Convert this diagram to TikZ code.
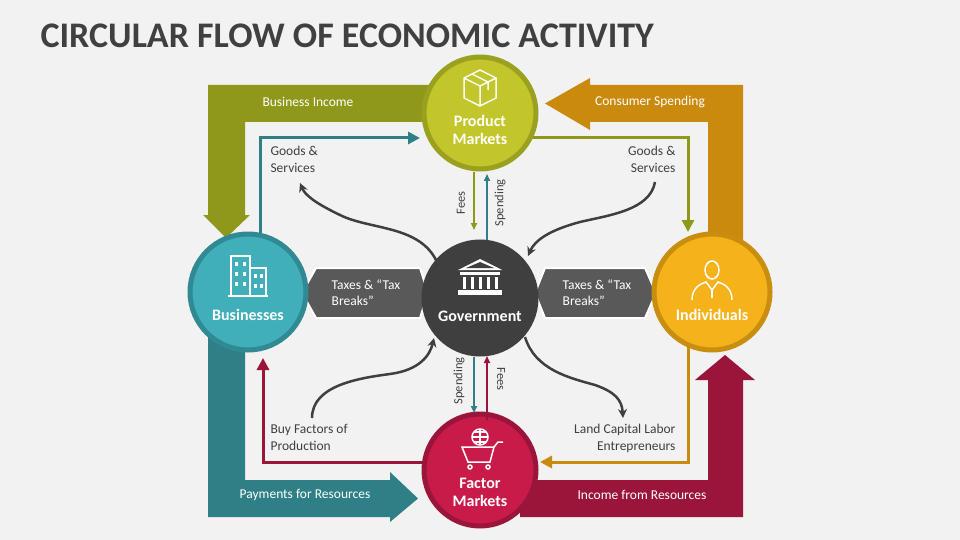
\documentclass[tikz,border=0pt]{standalone}
\usepackage{fontspec}
\setmainfont{Carlito}
\usetikzlibrary{arrows.meta}
\definecolor{bg}{HTML}{F2F2F2}
\definecolor{olive}{HTML}{8F981A}
\definecolor{lime}{HTML}{C2C62A}
\definecolor{limering}{HTML}{9AA11E}
\definecolor{gold}{HTML}{C98A0D}
\definecolor{amber}{HTML}{F6B21B}
\definecolor{amberring}{HTML}{C98E10}
\definecolor{teal}{HTML}{2F7F86}
\definecolor{cyan2}{HTML}{40AFB9}
\definecolor{cyanring}{HTML}{2F8A93}
\definecolor{crim}{HTML}{9A1539}
\definecolor{rose}{HTML}{C81B4A}
\definecolor{dgray}{HTML}{3F3F3F}
\definecolor{mgray}{HTML}{595959}
\definecolor{txt}{HTML}{404040}
\tikzset{
 hub/.style={circle,minimum size=112pt,line width=5pt,text=white,font=\bfseries\fontsize{16}{18}\selectfont,align=center,inner sep=0pt},
 wlab/.style={text=white,font=\fontsize{13.5}{15}\selectfont},
 dlab/.style={text=txt,font=\fontsize{13.5}{17}\selectfont,align=left},
 thin/.style={line width=3pt,-{Triangle[width=12pt,length=12pt]}},
 curv/.style={line width=2.5pt,dgray,-{Stealth[width=9pt,length=9pt]}},
 vl/.style={line width=1.6pt,-{Triangle[width=6pt,length=7pt]}},
 icon/.style={white,line width=1.5pt},
 hex/.style={fill=mgray,draw=white,line width=2pt}
}
\begin{document}
\begin{tikzpicture}[x=1pt,y=-1pt]
\fill[bg] (0,0) rectangle (960,540);
\useasboundingbox (0,0) rectangle (960,540);
\node[anchor=west,text=txt,font=\bfseries\fontsize{36}{38}\selectfont] (title) at (37,36) {CIRCULAR FLOW OF ECONOMIC ACTIVITY};
% thick arrows
\fill[olive] (440,85) -- (208,85) -- (208,215) -- (203,215) -- (226,238) -- (250,215) -- (245,215) -- (245,122) -- (440,122) -- cycle;
\fill[gold] (708,250) -- (708,122) -- (590,122) -- (590,130) -- (545,103.5) -- (590,78) -- (590,85) -- (743,85) -- (743,250) -- cycle;
\fill[teal] (208,320) -- (208,517) -- (390,517) -- (390,522) -- (418,498.5) -- (390,472) -- (390,480) -- (245,480) -- (245,320) -- cycle;
\fill[crim] (520,480) -- (708,480) -- (708,380) -- (695,380) -- (725,355) -- (755,380) -- (743,380) -- (743,517) -- (520,517) -- cycle;
% thin arrows
\coordinate (t1) at (260,240); \coordinate (t2) at (260,138); \coordinate (t3) at (420,138);
\draw[thin,teal] (t1) -- (t2) -- (t3);
\coordinate (o1) at (530,138); \coordinate (o2) at (688,138); \coordinate (o3) at (688,232);
\draw[thin,olive] (o1) -- (o2) -- (o3);
\coordinate (g1) at (688,340); \coordinate (g2) at (688,462); \coordinate (g3) at (540,462);
\draw[thin,gold] (g1) -- (g2) -- (g3);
\coordinate (c1) at (430,462); \coordinate (c2) at (263,462); \coordinate (c3) at (263,358);
\draw[thin,crim] (c1) -- (c2) -- (c3);
% hexagons
\draw[hex] (302,293) -- (316,268) -- (420,268) -- (428,293) -- (420,318) -- (316,318) -- cycle;
\draw[hex] (535,293) -- (545,268) -- (645,268) -- (656,293) -- (645,318) -- (545,318) -- cycle;
\node[text=white,font=\fontsize{13.5}{16}\selectfont,align=left] (tx1) at (366,293) {Taxes \& “Tax\\Breaks”};
\node[text=white,font=\fontsize{13.5}{16}\selectfont,align=left] (tx2) at (597,293) {Taxes \& “Tax\\Breaks”};
% hubs
\node[hub,fill=lime,draw=limering] (pm) at (480,113) {\\[28pt]Product\\Markets};
\node[hub,fill=dgray,draw=dgray] (gov) at (480,298) {\\[30pt]Government};
\node[hub,fill=cyan2,draw=cyanring,minimum size=116pt] (bus) at (248,292) {\\[40pt]Businesses};
\node[hub,fill=amber,draw=amberring,minimum size=116pt] (ind) at (712,292) {\\[40pt]Individuals};
\node[hub,fill=rose,draw=crim] (fm) at (480,470) {\\[38pt]Factor\\Markets};
% vertical small arrows
\draw[vl,olive] (474,172) -- (474,230);
\draw[vl,teal] (487,240) -- (487,174);
\draw[vl,teal] (474,357) -- (474,413);
\draw[vl,crim] (487,420) -- (487,356);
\node[rotate=90,text=txt,font=\fontsize{12.5}{14}\selectfont] (f1) at (461,203) {Fees};
\node[rotate=90,text=txt,font=\fontsize{12.5}{14}\selectfont] (s1) at (500,203) {Spending};
\node[rotate=90,text=txt,font=\fontsize{12.5}{14}\selectfont] (s2) at (459,381) {Spending};
\node[rotate=-90,text=txt,font=\fontsize{12.5}{14}\selectfont] (f2) at (501,379) {Fees};
% curves
\draw[curv] (437,262) .. controls (420,225) and (370,230) .. (340,215) .. controls (315,203) and (305,195) .. (300,183);
\draw[curv] (655,182) .. controls (650,210) and (610,215) .. (580,222) .. controls (550,230) and (535,240) .. (528,256);
\draw[curv] (312,418) .. controls (312,385) and (360,378) .. (390,374) .. controls (420,370) and (430,355) .. (434,338);
\draw[curv] (525,337) .. controls (535,370) and (570,378) .. (595,385) .. controls (615,392) and (622,400) .. (623,418);
% labels
\node[wlab] (l1) at (308,102) {Business Income};
\node[wlab] (l2) at (650,102) {Consumer Spending};
\node[wlab] (l3) at (305,495) {Payments for Resources};
\node[wlab] (l4) at (642,495) {Income from Resources};
\node[dlab,anchor=north west] (d1) at (267,143) {Goods \&\\Services};
\node[dlab,anchor=north east,align=right] (d2) at (679,143) {Goods \&\\Services};
\node[dlab,anchor=north west] (d3) at (267,421) {Buy Factors of\\Production};
\node[dlab,anchor=north east,align=right] (d4) at (679,421) {Land Capital Labor\\Entrepreneurs};
% icons
\draw[icon,line join=round] (480,70) -- (496,78) -- (496,98) -- (480,106) -- (464,98) -- (464,78) -- cycle (464,78) -- (480,86) -- (496,78) (480,86) -- (480,106) (472,74) -- (488,82) -- (488,90);
\draw[icon] (231,256) rectangle (250,296) (250,268) rectangle (266,296) (228,296) -- (268,296);
\foreach \yy in {262,272,282} {\fill[white] (235,\yy) rectangle (238,\yy+4); \fill[white] (243,\yy) rectangle (246,\yy+4);}
\foreach \yy in {274,284} {\fill[white] (254,\yy) rectangle (257,\yy+4); \fill[white] (260,\yy) rectangle (263,\yy+4);}
\fill[white] (458,270) -- (480,259) -- (502,270) -- cycle;
\fill[dgray] (466,268) -- (480,262) -- (494,268) -- cycle;
\fill[white] (460,272) rectangle (500,275);
\foreach \xx in {463,471,479,487,495} {\fill[white] (\xx,277) rectangle (\xx+3,289);}
\fill[white] (458,290) rectangle (502,295);
\draw[icon] (712,270) ellipse (7 and 9);
\draw[icon] (692,300) .. controls (692,288) and (700,284) .. (706,282) -- (712,290) -- (718,282) .. controls (724,284) and (732,288) .. (732,300);
\draw[icon] (712,290) -- (712,298);
\draw[icon] (480,437) circle (8);
\draw[icon] (472,437) -- (488,437) (480,429) -- (480,445) (474,432) -- (486,432) (474,442) -- (486,442);
\draw[icon] (462,447) -- (494,447) -- (490,462) -- (468,462) -- cycle (494,447) -- (498,442) -- (503,442);
\draw[icon] (470,467) circle (2) (488,467) circle (2);
\end{tikzpicture}
\end{document}
